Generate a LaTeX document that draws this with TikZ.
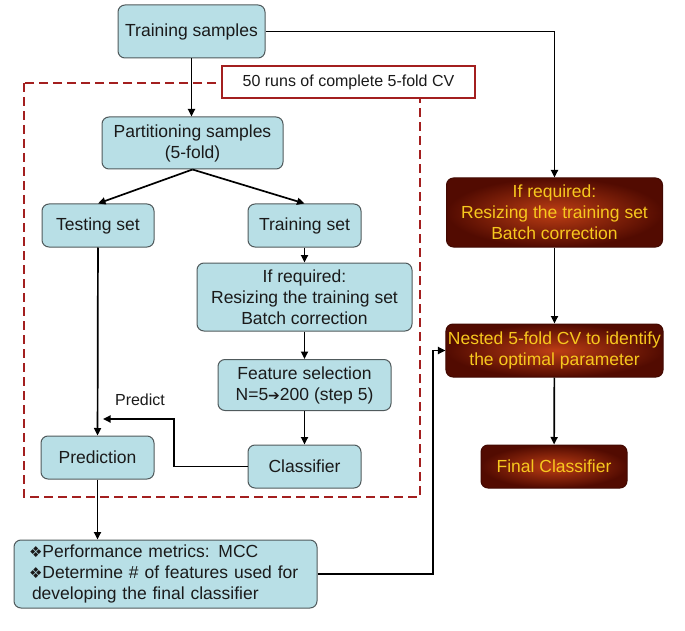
\documentclass[tikz,border=0pt]{standalone}
\usepackage{fontspec}
\setmainfont{Liberation Sans}
\newfontfamily\dejavu{DejaVu Sans}
\usepackage{xcolor}
\usetikzlibrary{arrows.meta, positioning, calc}
\definecolor{ink}{HTML}{1A1A1A}
\definecolor{edge}{HTML}{505A5C}
\definecolor{aqua}{HTML}{B8DFE6}
\definecolor{ember}{HTML}{BE3E14}
\definecolor{soot}{HTML}{520B01}
\definecolor{gold}{HTML}{F7C81E}
\definecolor{wine}{HTML}{A31F1F}
\tikzset{
  box/.style={
    rectangle, rounded corners=7pt,
    draw=edge, line width=1pt,
    align=center, inner sep=2pt,
    font=\fontsize{17.5}{21}\selectfont, text=ink
  },
  aquabox/.style={box, fill=aqua},
  hotbox/.style={box, draw=soot!80!black, shading=radial,
    inner color=ember, outer color=soot, text=gold},
  arrow/.style={-{Triangle[length=7.5pt,width=7pt]}, line width=1.7pt, draw=black},
  cvframe/.style={draw=wine, line width=2pt, dash pattern=on 9pt off 5pt},
  cvtag/.style={rectangle, draw=wine, line width=1.6pt, fill=white,
    font=\fontsize{16}{19}\selectfont, text=ink},
  tag/.style={font=\fontsize{16}{19}\selectfont, text=ink},
}
\newcommand{\diam}{{\dejavu\fontsize{15}{15}\selectfont ❖}}

\begin{document}
\begin{tikzpicture}[x=1pt, y=-1pt]
  \useasboundingbox (0,0) rectangle (685,631);

  % outer CV loop
  \draw[cvframe] (24,83) rectangle (420,497);
  \node[cvtag, minimum width=253pt, minimum height=32pt] (cvtag) at (348.5,82)
    {50 runs of complete 5-fold CV};

  % left column
  \node[aquabox, minimum width=147pt, minimum height=53pt] (train) at (191.5,31.5)
    {Training samples};
  \node[aquabox, minimum width=181pt, minimum height=52pt] (part) at (192.5,143)
    {Partitioning samples\\(5-fold)};
  \node[aquabox, minimum width=112pt, minimum height=43pt] (test) at (98,225.5)
    {Testing set};
  \node[aquabox, minimum width=113pt, minimum height=43pt] (trset) at (304.5,225.5)
    {Training set};
  \node[aquabox, minimum width=215pt, minimum height=68pt] (resize) at (304.5,297)
    {If required:\\Resizing the training set\\Batch correction};
  \node[aquabox, minimum width=173pt, minimum height=51pt] (featsel) at (304.5,385)
    {Feature selection\\N=5{\dejavu\fontsize{14}{15}\selectfont ➔}200 (step 5)};
  \node[aquabox, minimum width=113pt, minimum height=43pt] (clf) at (304.5,466.5)
    {Classifier};
  \node[aquabox, minimum width=113pt, minimum height=43pt] (pred) at (97.5,457.5)
    {Prediction};
  \node[aquabox, text width=273pt, inner xsep=15pt, minimum height=68pt, align=left] (perf) at (165.5,574)
    {\diam Performance metrics: MCC\\
     \diam Determine \# of features used for\\
     \hspace*{3pt}developing the final classifier};

  % right column
  \node[hotbox, minimum width=216pt, minimum height=69pt] (rresize) at (554.5,212.5)
    {If required:\\Resizing the training set\\Batch correction};
  \node[hotbox, minimum width=216pt, minimum height=53pt] (nested) at (554.5,350.5)
    {Nested 5-fold CV to identify\\the optimal parameter};
  \node[hotbox, minimum width=146pt, minimum height=43pt] (final) at (554,466.5)
    {Final Classifier};

  \coordinate (bend) at (174,419);
  \coordinate (predtip) at (103,419);
  \coordinate (jog) at (433,460);
  \node[tag] (predict) at (140,400) {Predict};

  \draw[arrow] (train.south) -- (train.south |- part.north);
  \draw[arrow] (train.east) -| (rresize.north);
  \draw[arrow] (part.south) -- (test.north);
  \draw[arrow] (part.south) -- (trset.north);
  \foreach \from/\to in {trset/resize, resize/featsel, featsel/clf, test/pred, rresize/nested, nested/final}
    \draw[arrow] (\from) -- (\to);
  \draw[arrow] (clf.west) -| (bend) -- (predtip);
  \draw[arrow] (pred.south) -- (pred.south |- perf.north);
  \draw[arrow] (perf.east) -| (jog) |- (nested.west);
\end{tikzpicture}
\end{document}
